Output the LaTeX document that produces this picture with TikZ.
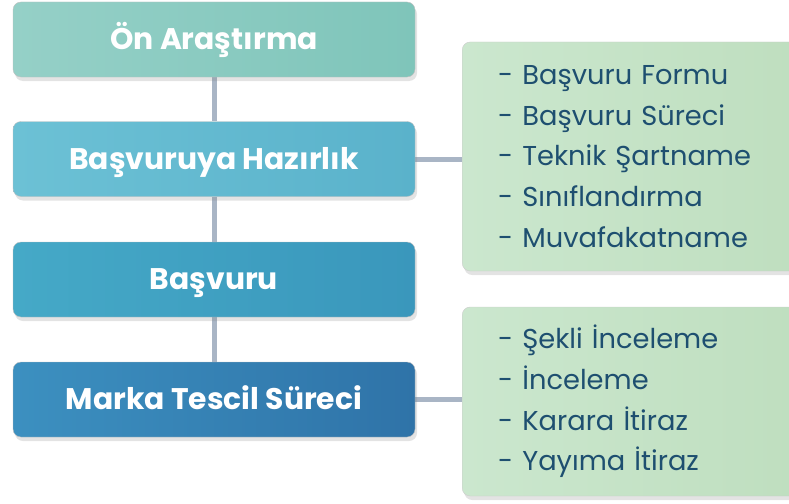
\documentclass[tikz,border=0pt]{standalone}
\usepackage{fontspec}
\setmainfont{Poppins}
\usetikzlibrary{shadows,backgrounds}
\definecolor{linkc}{HTML}{A9B5C5}
\definecolor{aL}{HTML}{95D0C7}\definecolor{aR}{HTML}{7FC5BA}
\definecolor{bL}{HTML}{6CC1D5}\definecolor{bR}{HTML}{5AB2CB}
\definecolor{cL}{HTML}{45A9C7}\definecolor{cR}{HTML}{3A97BC}
\definecolor{dL}{HTML}{3C90C0}\definecolor{dR}{HTML}{2F73A8}
\definecolor{gL}{HTML}{CBE7CE}\definecolor{gR}{HTML}{BEDEBE}
\definecolor{listtext}{HTML}{1E4F70}
\tikzset{
  stage/.style={rounded corners=8pt, minimum width=402pt, minimum height=75pt,
    inner sep=0pt, text=white, font=\fontsize{29.8}{34}\selectfont\bfseries,
    text height=24pt, text depth=3.4pt,
    draw=black!25, line width=0.4pt,
    drop shadow={opacity=0.22, shadow xshift=2pt, shadow yshift=-4pt}},
  listbox/.style={rounded corners=8pt, minimum width=325pt, left color=gL, right color=gR,
    draw=black!20, line width=0.4pt, anchor=west, align=left, text width=289pt,
    inner xsep=36pt, text=listtext, font=\fontsize{27.3}{40.7}\selectfont,
    drop shadow={opacity=0.22, shadow xshift=2pt, shadow yshift=-4pt}},
  link/.style={draw=linkc, line width=5pt}
}
\begin{document}
\begin{tikzpicture}[x=1pt,y=-1pt]
\useasboundingbox (0,0) rectangle (789,503);
\node[stage, left color=aL, right color=aR] (s1) at (214,39.5) {Ön Araştırma};
\node[stage, left color=bL, right color=bR] (s2) at (214,159) {Başvuruya Hazırlık};
\node[stage, left color=cL, right color=cR] (s3) at (214,279.5) {Başvuru};
\node[stage, left color=dL, right color=dR] (s4) at (214,399.5) {Marka Tescil Süreci};
\node[listbox, minimum height=229pt] (l1) at (462,156.5)
  {- Başvuru Formu\\- Başvuru Süreci\\- Teknik Şartname\\- Sınıflandırma\\- Muvafakatname};
\node[listbox, minimum height=189pt] (l2) at (462,401.5)
  {- Şekli İnceleme\\- İnceleme\\- Karara İtiraz\\- Yayıma İtiraz};
\begin{scope}[on background layer]
  \draw[link] (s1.south) -- (s2.north);
  \draw[link] (s2.south) -- (s3.north);
  \draw[link] (s3.south) -- (s4.north);
  \draw[link] (s2.east) -- (s2.east -| l1.west);
  \draw[link] (s4.east) -- (s4.east -| l2.west);
\end{scope}
\end{tikzpicture}
\end{document}
